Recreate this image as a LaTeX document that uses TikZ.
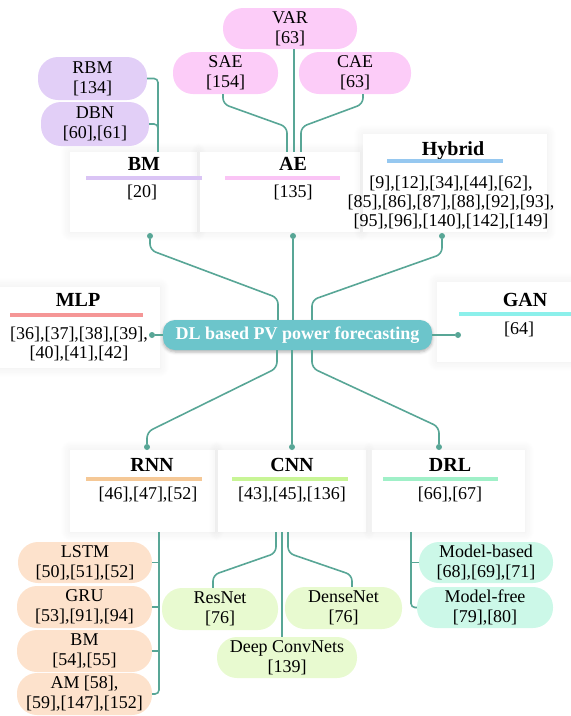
\documentclass[tikz,border=0pt]{standalone}
\usepackage{fontspec}
\setmainfont{Liberation Serif}
\usetikzlibrary{shadows.blur}
\definecolor{conn}{RGB}{88,166,150}
\definecolor{hubfill}{RGB}{108,197,203}
\definecolor{pBMc}{RGB}{226,207,247}
\definecolor{pAEc}{RGB}{252,204,248}
\definecolor{pRNNc}{RGB}{253,226,204}
\definecolor{pCNNc}{RGB}{232,250,208}
\definecolor{pDRLc}{RGB}{204,248,232}
\definecolor{bBMc}{RGB}{218,196,245}
\definecolor{bAEc}{RGB}{250,196,245}
\definecolor{bHyc}{RGB}{150,200,240}
\definecolor{bMLPc}{RGB}{245,150,150}
\definecolor{bGANc}{RGB}{140,240,235}
\definecolor{bRNNc}{RGB}{245,200,150}
\definecolor{bCNNc}{RGB}{200,245,150}
\definecolor{bDRLc}{RGB}{160,240,200}
\tikzset{
  pill/.style={rectangle, rounded corners=20pt, inner sep=0pt, minimum height=42pt, align=center, font=\fontsize{18}{20}\selectfont},
  panel/.style={rectangle, fill=white, inner sep=0pt, blur shadow={shadow xshift=0pt, shadow yshift=0pt, shadow blur radius=10pt, shadow blur steps=12, shadow opacity=8}},
  ttl/.style={font=\fontsize{20}{22}\selectfont\bfseries, inner sep=0pt},
  refs/.style={font=\fontsize{18}{19}\selectfont, inner sep=0pt, align=center},
  bar/.style={rectangle, inner sep=0pt, minimum height=4.5pt},
  conn/.style={draw=conn, line width=1.6pt, rounded corners=6pt},
  dot/.style={circle, fill=conn, inner sep=0pt, minimum size=6pt},
  hub/.style={rectangle, rounded corners=12pt, fill=hubfill, text=white, minimum width=269pt, minimum height=30pt, inner sep=0pt, font=\fontsize{18}{20}\selectfont\bfseries, blur shadow={shadow xshift=0pt, shadow yshift=-2pt, shadow blur radius=3pt, shadow opacity=30}}
}
\begin{document}
\begin{tikzpicture}[x=1pt,y=-1pt]
\useasboundingbox (0,0) rectangle (571,716);
% panels
\node[panel, minimum width=127pt, minimum height=80pt] (pBM) at (133.5,192) {};
\node[panel, minimum width=160pt, minimum height=80pt] (pAE) at (280,192) {};
\node[panel, minimum width=184pt, minimum height=98pt] (pHy) at (455,183) {};
\node[panel, minimum width=160pt, minimum height=81pt] (pMLP) at (80,327.5) {};
\node[panel, minimum width=140pt, minimum height=80pt] (pGAN) at (507,322) {};
\node[panel, minimum width=145pt, minimum height=82pt] (pRNN) at (142.5,491) {};
\node[panel, minimum width=148pt, minimum height=82pt] (pCNN) at (292,491) {};
\node[panel, minimum width=153pt, minimum height=82pt] (pDRL) at (448.5,491) {};
% titles
\node[ttl, anchor=base] (tBM) at (144,170) {BM};
\node[ttl, anchor=base] (tAE) at (293,170) {AE};
\node[ttl, anchor=base] (tHy) at (453,155) {Hybrid};
\node[ttl, anchor=base] (tMLP) at (78,306) {MLP};
\node[ttl, anchor=base] (tGAN) at (525,306) {GAN};
\node[ttl, anchor=base] (tRNN) at (152,471) {RNN};
\node[ttl, anchor=base] (tCNN) at (292,471) {CNN};
\node[ttl, anchor=base] (tDRL) at (450,471) {DRL};
% bars
\node[bar, fill=bBMc, minimum width=116pt] (bBM) at (144,178) {};
\node[bar, fill=bAEc, minimum width=115pt] (bAE) at (282.5,178) {};
\node[bar, fill=bHyc, minimum width=116pt] (bHy) at (445,161) {};
\node[bar, fill=bMLPc, minimum width=133pt] (bMLP) at (76.5,315) {};
\node[bar, fill=bGANc, minimum width=112pt] (bGAN) at (515,314) {};
\node[bar, fill=bRNNc, minimum width=116pt] (bRNN) at (144,479) {};
\node[bar, fill=bCNNc, minimum width=116pt] (bCNN) at (290,479) {};
\node[bar, fill=bDRLc, minimum width=115pt] (bDRL) at (440.5,479) {};
% refs
\node[refs, anchor=base] (rBM) at (142,197) {[20]};
\node[refs, anchor=base] (rAE) at (293,197) {[135]};
\node[refs] (rHy) at (451,202.5) {[9],[12],[34],[44],[62],\\{}[85],[86],[87],[88],[92],[93],\\{}[95],[96],[140],[142],[149]};
\node[refs] (rMLP) at (79,344) {[36],[37],[38],[39],\\{}[40],[41],[42]};
\node[refs, anchor=base] (rGAN) at (519,334) {[64]};
\node[refs, anchor=base] (rRNN) at (148,499) {[46],[47],[52]};
\node[refs, anchor=base] (rCNN) at (292,499) {[43],[45],[136]};
\node[refs, anchor=base] (rDRL) at (450,499) {[66],[67]};
% pills
\node[pill, fill=pAEc, minimum width=134pt, minimum height=41pt] (VAR) at (290,28.5) {VAR\\{}[63]};
\node[pill, fill=pAEc, minimum width=105pt] (SAE) at (225.5,73) {SAE\\{}[154]};
\node[pill, fill=pAEc, minimum width=112pt] (CAE) at (355,73) {CAE\\{}[63]};
\node[pill, fill=pBMc, minimum width=109pt, minimum height=43pt] (RBM) at (92.5,78.5) {RBM\\{}[134]};
\node[pill, fill=pBMc, minimum width=108pt, minimum height=44pt] (DBN) at (95,124) {DBN\\{}[60],[61]};
\node[pill, fill=pRNNc, minimum width=134pt, minimum height=41pt] (LSTM) at (85,562.5) {LSTM\\{}[50],[51],[52]};
\node[pill, fill=pRNNc, minimum width=135pt] (GRU) at (84.5,607) {GRU\\{}[53],[91],[94]};
\node[pill, fill=pRNNc, minimum width=135pt] (BMr) at (84.5,651) {BM\\{}[54],[55]};
\node[pill, fill=pRNNc, minimum width=135pt] (AM) at (84.5,694) {AM [58],\\{}[59],[147],[152]};
\node[pill, fill=pCNNc, minimum width=116pt] (ResNet) at (220,609) {ResNet\\{}[76]};
\node[pill, fill=pCNNc, minimum width=117pt] (Dense) at (343.5,608) {DenseNet\\{}[76]};
\node[pill, fill=pCNNc, minimum width=140pt, minimum height=41pt] (DeepC) at (287,657.5) {Deep ConvNets\\{}[139]};
\node[pill, fill=pDRLc, minimum width=134pt, minimum height=41pt] (MBased) at (486,562.5) {Model-based\\{}[68],[69],[71]};
\node[pill, fill=pDRLc, minimum width=136pt, minimum height=41pt] (MFree) at (485,607.5) {Model-free\\{}[79],[80]};
% connectors top
\draw[conn, rounded corners=4pt] (RBM.east) -| ([xshift=24.5pt]pBM.north);
\draw[conn, rounded corners=4pt] (DBN.east) -| ([xshift=24.5pt]pBM.north);
\draw[conn] ([xshift=-2.5pt]SAE.south) -- (223,104) -- (287,127) -- ([xshift=7pt]pAE.north);
\draw[conn] ([xshift=4pt]VAR.south) -- ([xshift=14pt]pAE.north);
\draw[conn] ([xshift=8pt]CAE.south) -- (363,104) -- (301,127) -- ([xshift=21pt]pAE.north);
% hub
\node[dot] (dBM) at (150,236) {};
\node[dot] (dAE) at (293,236) {};
\node[dot] (dHy) at (442,236) {};
\node[dot] (dMLP) at (152,335) {};
\node[dot] (dGAN) at (458,335) {};
\node[dot] (dRNN) at (147,447) {};
\node[dot] (dCNN) at (292,447) {};
\node[dot] (dDRL) at (439,447) {};
\node[hub] (hub) at (297.5,335) {DL based PV power forecasting};
\draw[conn] (dBM) -- (150,250) -- (278,298) -- ([xshift=-19.5pt]hub.north);
\draw[conn] (dAE) -- ([xshift=-4.5pt]hub.north);
\draw[conn] (dHy) -- (442,254) -- (312,300) -- ([xshift=14.5pt]hub.north);
\draw[conn] (dMLP) -- (hub.west);
\draw[conn] (hub.east) -- (dGAN);
\draw[conn] ([xshift=-20.5pt]hub.south) -- (277,368) -- (147,432) -- (dRNN);
\draw[conn] ([xshift=-5.5pt]hub.south) -- (dCNN);
\draw[conn] ([xshift=14.5pt]hub.south) -- (312,368) -- (439,427) -- (dDRL);
% RNN
\coordinate (sR) at (159,532);
\draw[conn, rounded corners=4pt] ([xshift=16.5pt]pRNN.south) |- (AM.east);
\draw[conn] (LSTM.east) -- (LSTM.east -| sR);
\draw[conn] (GRU.east) -- (GRU.east -| sR);
\draw[conn] (BMr.east) -- (BMr.east -| sR);
% CNN
\draw[conn] ([xshift=-16pt]pCNN.south) -- (276,553) -- (213,575) -- ([xshift=-7pt]ResNet.north);
\draw[conn] ([xshift=-10pt]pCNN.south) -- ([xshift=-5pt]DeepC.north);
\draw[conn] ([xshift=-4pt]pCNN.south) -- (288,553) -- (352,575) -- ([xshift=8.5pt]Dense.north);
% DRL
\coordinate (sD) at (411,532);
\draw[conn, rounded corners=4pt] ([xshift=-37.5pt]pDRL.south) |- (MFree.west);
\draw[conn] (MBased.west) -- (MBased.west -| sD);
\end{tikzpicture}
\end{document}
